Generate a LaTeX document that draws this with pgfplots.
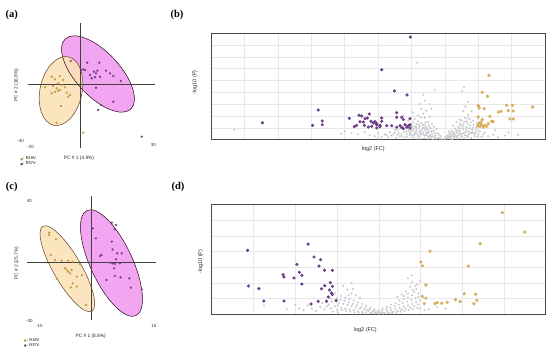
\documentclass[border=0pt]{standalone}
\usepackage{pgfplots}
\pgfplotsset{compat=1.18}
\usepackage{fontspec}
\setmainfont{Liberation Serif}
\setsansfont{Liberation Sans}
\definecolor{pur}{HTML}{7B3F98}
\definecolor{yel}{HTML}{D9A441}
\definecolor{yelfill}{HTML}{FBE2B8}
\definecolor{purfill}{HTML}{F2A6F2}
\definecolor{gpt}{HTML}{C6C9CD}
\newcommand\sm[1]{\fontsize{#1}{#1}\selectfont\sffamily}
\pgfplotsset{
  pca/.style={scale only axis, axis lines=none, clip=false, anchor=south west,
    legend cell align=left,
    legend style={draw=none, fill=none, font=\sm{4}, inner sep=0pt, row sep=-0.5pt,
      nodes={inner sep=0.6pt}}},
  volc/.style={scale only axis, anchor=south west, clip=false,
    axis line style={draw=black!72, line width=0.8pt},
    grid=major, major grid style={draw=black!9, line width=0.35pt},
    xticklabels={}, yticklabels={}, major tick length=0pt},
  pcay/.style={only marks, mark=*, mark size=1.05pt, color=yel, mark options={fill=yel, draw=yel!85!black, line width=0.15pt},
    legend image code/.code={\draw[mark=*, mark size=1.05pt, mark options={fill=yel, draw=yel!85!black}] plot coordinates {(0pt,0pt)};}},
  pcap/.style={only marks, mark=*, mark size=1.05pt, color=pur, mark options={fill=pur, draw=pur!85!black, line width=0.15pt},
    legend image code/.code={\draw[mark=*, mark size=1.05pt, mark options={fill=pur, draw=pur!85!black}] plot coordinates {(0pt,0pt)};}},
  vg/.style={only marks, mark=*, mark size=1.0pt, color=gpt, mark options={fill=gpt, draw=gpt, line width=0.1pt}},
  vp/.style={only marks, mark=*, mark size=1.45pt, color=pur, mark options={fill=pur, draw=pur!75!black, line width=0.25pt}},
  vy/.style={only marks, mark=*, mark size=1.45pt, color=yel, mark options={fill=yel!75!white, draw=yel!95!black, line width=0.35pt}},
}
\begin{document}
\begin{tikzpicture}
\path (0pt,0pt) rectangle (550pt,348pt);

% ---------------- panel labels ----------------
\node[font=\fontsize{10.5}{10.5}\selectfont\bfseries] at (11.7pt,333pt) {(a)};
\node[font=\fontsize{10.5}{10.5}\selectfont\bfseries] at (177pt,333pt) {(b)};
\node[font=\fontsize{10.5}{10.5}\selectfont\bfseries] at (11.7pt,161.3pt) {(c)};
\node[font=\fontsize{10.5}{10.5}\selectfont\bfseries] at (178pt,161.3pt) {(d)};

% ---------------- (a) PCA ----------------
\begin{axis}[pca, at={(27.5pt,200.45pt)}, width=130pt, height=126.5pt,
  xmin=-21, xmax=31, ymin=-46, ymax=46,
  legend style={at={(-0.055,-0.111)}, anchor=west}]
\fill[purfill, rotate around={-47:(axis cs:7.2,7.5)}] (axis cs:7.2,7.5) ellipse [x radius=48pt, y radius=22pt];
\fill[yelfill, fill opacity=0.9, rotate around={78:(axis cs:-7.6,-4.9)}] (axis cs:-7.6,-4.9) ellipse [x radius=35pt, y radius=21pt];
\draw[black!65!purple!60!black, line width=0.5pt, rotate around={-47:(axis cs:7.2,7.5)}] (axis cs:7.2,7.5) ellipse [x radius=48pt, y radius=22pt];
\draw[brown!50!black, line width=0.5pt, rotate around={78:(axis cs:-7.6,-4.9)}] (axis cs:-7.6,-4.9) ellipse [x radius=35pt, y radius=21pt];
\draw[black!75, line width=0.5pt] (axis cs:-20.8,0) -- (axis cs:30,0);
\draw[black!75, line width=0.5pt] (axis cs:0,-46) -- (axis cs:0,44.6);
\addplot[pcay] coordinates {
(-11.3,5.5) (-10,3.6) (-8,6.0) (-6.7,3.1) (-8.7,0.7) (-10.7,-1.2) (-7.3,-0.5)
(-9.3,-2.9) (-6,-2.2) (-8.7,-4.7) (-8,-4.1) (-10,-5.4) (-11.3,-6.5) (-5.3,-6.1)
(-4,-7.8) (-4.7,-9.0) (-7.6,-15.8) (-9.3,-27.9) (1.3,-35.2) (-14,-2.2)};
\addlegendentry{: R19V}
\addplot[pcap] coordinates {
(-3.7,16.9) (0.4,10.4) (2,10.4) (2.9,15.7) (4,6.8) (4.7,4.4) (5.6,9.2) (6.4,8.0)
(6.9,9.9) (7.7,15.7) (8,5.5) (10.4,9.9) (12,8.0) (13.3,6.0) (16.3,2.4) (6.4,-2.5)
(13.3,-12.7) (8.4,-15.1) (7.3,-18.7) (24.7,-38.1) (1.3,10.9) (6,5.1)};
\addlegendentry{: R37V}
\end{axis}
\node[font=\sm{4.5}, text=black!80] at (20.7pt,207.5pt) {-40};
\node[font=\sm{4.5}, text=black!80] at (30.7pt,200.7pt) {-20};
\node[font=\sm{4.5}, text=black!80] at (153.3pt,202.7pt) {30};
\node[font=\sm{4.8}, text=black!85] at (79pt,189.5pt) {PC \# 1 (4.9\%)};
\node[font=\sm{4.8}, text=black!85, rotate=90] at (16.5pt,263pt) {PC \# 2 (16.8\%)};

% ---------------- (c) PCA ----------------
\begin{axis}[pca, at={(27.1pt,26pt)}, width=129.2pt, height=127.5pt,
  xmin=-17, xmax=17, ymin=-40, ymax=45,
  legend style={at={(-0.025,-0.165)}, anchor=west}]
\fill[purfill, rotate around={-65:(axis cs:5.2,-0.7)}] (axis cs:5.2,-0.7) ellipse [x radius=58pt, y radius=21pt];
\fill[yelfill, fill opacity=0.9, rotate around={-60:(axis cs:-6.4,-4.5)}] (axis cs:-6.4,-4.5) ellipse [x radius=49pt, y radius=14pt];
\draw[black!65!purple!60!black, line width=0.5pt, rotate around={-65:(axis cs:5.2,-0.7)}] (axis cs:5.2,-0.7) ellipse [x radius=58pt, y radius=21pt];
\draw[brown!50!black, line width=0.5pt, rotate around={-60:(axis cs:-6.4,-4.5)}] (axis cs:-6.4,-4.5) ellipse [x radius=49pt, y radius=14pt];
\draw[black!75, line width=0.5pt] (axis cs:-17,0) -- (axis cs:16.9,0);
\draw[black!75, line width=0.5pt] (axis cs:0,-38.7) -- (axis cs:0,44);
\addplot[pcay] coordinates {
(-11.2,19.6) (-11.2,18) (-9.4,15.1) (-10.8,4.7) (-9.7,1.3) (-7.9,0.9) (-6.2,0.9)
(-5,0.2) (-7,-4.2) (-6.6,-5.3) (-6.2,-6.4) (-5.7,-7.6) (-5.3,-5.3) (-3.1,-1.3)
(-2.6,-8.7) (-3.9,-9.8) (-9.2,-10.9) (-5,-14.2) (-5.5,-16.9) (-3.9,-16.4) (-1.5,-28.7)};
\addlegendentry{: R19V}
\addplot[pcap] coordinates {
(0.3,22.4) (5.3,26.2) (6.4,24.7) (6.1,21.8) (1.1,15.8) (5.3,13.6) (2.2,4) (2.6,4.7)
(5.5,8.4) (6.7,5.8) (7.9,5.8) (6.4,1.8) (4.8,-0.4) (5.5,-0.9) (6.1,-1.3) (7.4,-0.9)
(3.9,-12) (6.1,-9.3) (7.6,-10.2) (9.9,-10.9) (10.3,-17.1) (13.2,-18.2) (5.9,-4.2)};
\addlegendentry{: R37V}
\end{axis}
\node[font=\sm{4.5}, text=black!80] at (29.3pt,147.3pt) {40};
\node[font=\sm{4.5}, text=black!80] at (29.3pt,27.5pt) {-40};
\node[font=\sm{4.5}, text=black!80] at (39.3pt,21.7pt) {-15};
\node[font=\sm{4.5}, text=black!80] at (154pt,21.7pt) {15};
\node[font=\sm{4.8}, text=black!85] at (90.7pt,12pt) {PC \# 1 (8.8\%)};
\node[font=\sm{4.8}, text=black!85, rotate=90] at (16.7pt,84.7pt) {PC \# 2 (25.7\%)};

% ---------------- (b) volcano ----------------
\begin{axis}[volc, at={(211pt,208.3pt)}, width=334pt, height=106.7pt,
  xmin=0, xmax=10, ymin=0, ymax=9, xtick={1,...,9}, ytick={1,...,8}]
\addplot[vg] coordinates {
(6.90,0.05) (6.85,0.10) (6.80,0.15) (6.75,0.08) (6.70,0.20) (6.65,0.30) (6.60,0.12)
(6.55,0.40) (6.50,0.25) (6.45,0.55) (6.40,0.35) (6.35,0.60) (6.30,0.45) (6.25,0.75)
(6.20,0.30) (6.15,0.85) (6.10,0.50) (6.05,0.95) (6.00,0.65) (5.95,0.40) (5.90,1.05)
(5.85,0.70) (5.80,0.20) (5.75,0.90) (5.70,0.50) (5.65,0.30) (5.60,0.80) (5.55,0.15)
(5.50,0.60) (5.40,0.35) (5.30,0.20) (5.20,0.45) (5.10,0.25) (5.00,0.10) (4.90,0.30)
(6.70,0.55) (6.60,0.70) (6.50,0.85) (6.45,1.05) (6.40,1.20) (6.35,1.00) (6.30,1.40)
(6.25,1.15) (6.20,1.55) (6.15,1.30) (6.10,1.75) (6.05,1.45) (6.00,1.20) (6.50,1.50)
(6.40,1.85) (6.35,2.20) (6.30,2.60) (6.45,2.45) (6.55,1.95) (6.25,3.00) (6.40,3.30)
(6.35,3.80) (6.55,3.00) (6.20,2.05) (6.60,2.60) (6.17,6.50) (6.70,4.20) (5.90,1.60)
(5.80,1.35) (5.75,2.00) (6.05,2.30) (6.62,1.35) (6.75,0.90) (6.68,1.10) (6.58,0.95)
(6.48,0.10) (6.38,0.15) (6.28,0.10) (6.18,0.08) (6.08,0.20) (5.98,0.10) (5.88,0.25)
(6.72,0.35) (6.62,0.50) (6.52,0.65) (6.42,0.75) (6.32,0.85) (6.22,1.00) (6.12,0.65)
(6.02,0.35) (5.92,0.75)
(6.88,0.30) (6.82,0.42) (6.78,0.55) (6.66,0.75) (6.64,0.05) (6.56,0.22) (6.54,1.10)
(6.46,0.38) (6.44,0.90) (6.36,0.45) (6.34,1.25) (6.26,0.55) (6.24,0.30) (6.16,0.70)
(6.14,1.05) (6.06,0.80) (6.04,1.10) (5.96,0.55) (5.94,0.90) (5.86,0.45) (5.84,1.15)
(5.78,0.65) (5.72,0.30) (5.68,0.95) (5.62,0.55) (5.58,0.40) (5.52,0.85) (5.46,0.45)
(5.36,0.65) (5.26,0.40) (6.58,0.30) (6.48,0.60) (6.38,0.95) (6.28,0.70) (6.18,0.50)
(6.08,0.40) (5.98,0.85) (6.42,1.45) (6.28,1.85) (6.12,1.10) (6.22,1.30) (6.52,1.25)
(7.00,0.05) (7.05,0.12) (7.10,0.20) (7.15,0.10) (7.20,0.30) (7.25,0.45) (7.30,0.25)
(7.35,0.60) (7.40,0.35) (7.45,0.75) (7.50,0.50) (7.55,0.90) (7.60,0.40) (7.65,1.05)
(7.70,0.70) (7.75,1.20) (7.80,0.55) (7.85,1.00) (7.90,0.30) (7.95,0.80) (8.00,0.45)
(8.10,0.25) (8.20,0.60) (8.30,0.30) (8.45,0.40) (8.60,0.20) (8.80,0.35)
(7.20,0.75) (7.30,0.95) (7.40,1.10) (7.45,1.35) (7.50,1.60) (7.55,1.30) (7.60,1.85)
(7.65,1.55) (7.70,2.10) (7.75,1.75) (7.55,2.40) (7.62,2.80) (7.70,3.20) (7.57,4.45)
(7.52,4.10) (7.80,2.40) (7.35,1.50) (7.25,1.20) (7.15,0.55) (7.10,0.40) (7.28,0.15)
(7.38,0.10) (7.48,0.20) (7.58,0.12) (7.68,0.25) (7.78,0.15) (7.88,0.50) (7.22,0.05)
(7.42,0.55) (7.62,0.65) (7.82,0.85) (7.72,0.45) (7.52,0.30) (7.32,0.40) (7.12,0.70)
(7.02,0.25) (7.08,0.35) (7.14,0.28) (7.18,0.45) (7.24,0.65) (7.26,0.30) (7.34,0.80)
(7.36,0.25) (7.44,0.95) (7.46,0.45) (7.54,1.10) (7.56,0.55) (7.64,0.85) (7.66,0.35)
(7.74,0.95) (7.76,0.60) (7.84,0.65) (7.86,1.25) (7.92,0.60) (7.94,1.05) (7.98,0.25)
(8.05,0.70) (8.15,0.45) (7.48,1.20) (7.58,1.50) (7.68,1.35) (7.78,1.45) (7.38,0.75)
(7.28,0.55) (7.18,0.22) (7.68,1.80) (7.85,1.60) (7.95,1.40) (7.44,1.70)
(0.70,0.84) (4.01,0.71) (4.21,0.56) (4.40,0.45) (4.60,0.65) (4.75,0.40) (3.90,0.50)
(5.00,0.55) (8.90,0.60) (9.20,0.40) (8.50,0.80)};
\addplot[vp] coordinates {
(1.54,1.43) (3.21,2.50) (3.04,1.21) (3.33,1.58) (3.33,1.26) (4.14,1.80) (4.43,2.06)
(4.74,2.17) (4.29,1.10) (4.36,1.21) (4.61,1.77) (4.68,1.83) (4.56,1.49) (4.59,1.21)
(4.79,1.55) (4.86,1.41) (4.96,1.35) (4.81,1.13) (4.96,0.99) (4.71,1.07) (5.97,8.66)
(5.11,5.90) (5.49,4.11) (5.87,3.77) (5.56,2.28) (5.56,1.89) (5.71,1.89) (5.76,1.69)
(5.96,1.77) (5.11,1.83) (5.11,1.55) (4.96,1.26) (5.06,1.21) (5.26,1.18) (5.41,1.18)
(5.56,1.05) (5.66,1.18) (5.71,1.05) (5.81,1.26) (5.86,1.05) (5.91,1.18) (5.96,1.26)
(5.96,0.99) (5.76,0.93) (4.46,1.52) (4.51,2.00) (4.91,1.52) (5.06,1.10)};
\addplot[vy] coordinates {
(8.32,5.43) (8.12,4.00) (8.28,3.66) (8.00,2.87) (8.03,2.67) (8.18,2.61) (8.35,1.97)
(8.00,1.91) (8.12,1.69) (7.99,1.18) (8.05,1.13) (8.10,1.26) (8.15,1.07) (8.20,1.21)
(8.25,1.13) (8.08,1.47) (8.60,2.34) (8.68,2.39) (8.85,2.90) (9.03,2.90) (8.90,2.45)
(9.05,2.42) (8.95,1.75) (9.05,1.75) (9.63,2.76) (8.40,1.55) (8.30,1.35) (8.02,1.40)
(8.45,1.52)};
\end{axis}
\node[font=\sm{5.5}, text=black!85] at (373.3pt,199pt) {log2 (FC)};
\node[font=\sm{5.5}, text=black!85, rotate=90] at (195pt,265.5pt) {-log10 (P)};

% ---------------- (d) volcano ----------------
\begin{axis}[volc, at={(211.7pt,34pt)}, width=334pt, height=109.3pt,
  xmin=0, xmax=8, ymin=0, ymax=7, xtick={1,...,7}, ytick={1,...,6}]
\addplot[vg] coordinates {
(4.00,0.03) (4.05,0.05) (3.95,0.08) (4.10,0.10) (3.90,0.12) (4.15,0.06) (3.85,0.15)
(4.20,0.18) (3.80,0.05) (4.25,0.10) (3.75,0.20) (4.30,0.25) (3.70,0.10) (4.35,0.15)
(3.65,0.28) (4.40,0.32) (3.60,0.15) (4.45,0.20) (3.55,0.35) (4.50,0.40) (3.50,0.20)
(4.55,0.28) (3.45,0.42) (4.60,0.48) (3.40,0.25) (4.65,0.35) (3.35,0.50) (4.70,0.55)
(3.30,0.30) (4.75,0.40) (3.25,0.58) (4.80,0.65) (3.20,0.35) (4.85,0.50) (3.15,0.65)
(4.90,0.75) (3.10,0.40) (4.95,0.60) (3.05,0.70) (5.00,0.85) (3.00,0.25) (2.95,0.50)
(2.90,0.15) (2.85,0.35) (2.80,0.60) (2.70,0.30) (2.60,0.45) (2.50,0.20) (2.40,0.35)
(2.30,0.55) (2.20,0.25)
(3.90,0.30) (4.10,0.35) (3.80,0.40) (4.20,0.45) (3.70,0.55) (4.30,0.60) (3.60,0.65)
(4.40,0.70) (3.50,0.75) (4.50,0.85) (3.40,0.85) (4.60,0.95) (3.30,0.95) (4.70,1.05)
(3.20,1.05) (4.80,1.20) (3.10,1.15) (4.85,1.40) (3.00,1.00) (4.90,1.60) (3.35,1.30)
(4.75,1.75) (3.25,1.55) (4.80,2.05) (3.35,2.00) (4.79,2.48) (3.15,1.80) (4.65,1.45)
(3.45,1.20) (4.55,1.25) (4.95,1.10) (4.92,1.90) (2.95,1.35) (3.55,1.05) (4.45,1.10)
(4.70,2.30)
(3.98,0.20) (4.08,0.22) (3.88,0.25) (4.18,0.30) (3.78,0.30) (4.28,0.40) (3.68,0.40)
(4.38,0.50) (3.58,0.45) (4.48,0.60) (3.48,0.55) (4.58,0.70) (3.38,0.65) (4.68,0.80)
(3.28,0.75) (4.78,0.90) (3.18,0.85) (4.88,1.00) (3.08,0.90) (3.02,0.55) (2.88,0.80)
(2.75,0.50) (2.65,0.70) (3.92,0.05) (4.02,0.12) (4.12,0.02) (3.82,0.08) (4.22,0.05)
(3.72,0.25) (4.32,0.08) (3.62,0.05) (4.42,0.10) (3.52,0.10) (4.52,0.15) (3.42,0.12)
(4.62,0.20) (3.32,0.15) (4.72,0.25) (3.22,0.20) (4.82,0.30) (3.12,0.25) (4.92,0.40)
(3.02,0.10) (4.98,0.35) (4.70,1.30) (4.60,1.15) (4.82,1.55) (4.88,1.80) (3.38,1.60)
(3.28,1.20) (2.85,1.00) (4.95,1.30) (4.99,2.10)
(1.25,0.55) (2.00,0.60) (2.10,0.35) (5.20,0.30) (5.40,0.45) (5.10,0.25) (5.60,0.35)
(1.80,0.30)};
\addplot[vp] coordinates {
(0.86,4.08) (0.88,1.79) (1.13,1.62) (1.25,0.83) (1.73,0.83) (1.71,2.52) (1.73,2.37)
(1.97,2.31) (2.04,3.18) (2.10,2.67) (2.16,2.48) (2.16,1.92) (2.31,4.48) (2.45,3.65)
(2.61,3.48) (2.57,3.07) (2.70,2.80) (2.89,2.80) (2.84,2.01) (2.89,1.77) (2.71,1.81)
(2.63,1.62) (2.82,1.54) (2.87,1.35) (2.89,1.24) (2.79,1.09) (2.75,0.81) (2.98,0.85)
(2.55,0.81) (2.38,0.64)};
\addplot[vy] coordinates {
(6.96,6.49) (7.50,5.25) (6.43,4.50) (5.23,4.02) (5.01,3.33) (5.05,3.09) (6.15,3.07)
(5.13,1.86) (5.05,1.13) (5.13,1.02) (5.09,0.66) (5.35,0.66) (5.40,0.72) (5.51,0.69)
(5.64,0.75) (5.84,0.92) (5.95,0.79) (6.05,1.30) (6.32,1.26) (6.35,0.88) (6.28,0.66)};
\end{axis}
\node[font=\sm{5.5}, text=black!85] at (365.3pt,18pt) {log2 (FC)};
\node[font=\sm{5.5}, text=black!85, rotate=90] at (200.7pt,86.3pt) {-log10 (P)};
\end{tikzpicture}
\end{document}
